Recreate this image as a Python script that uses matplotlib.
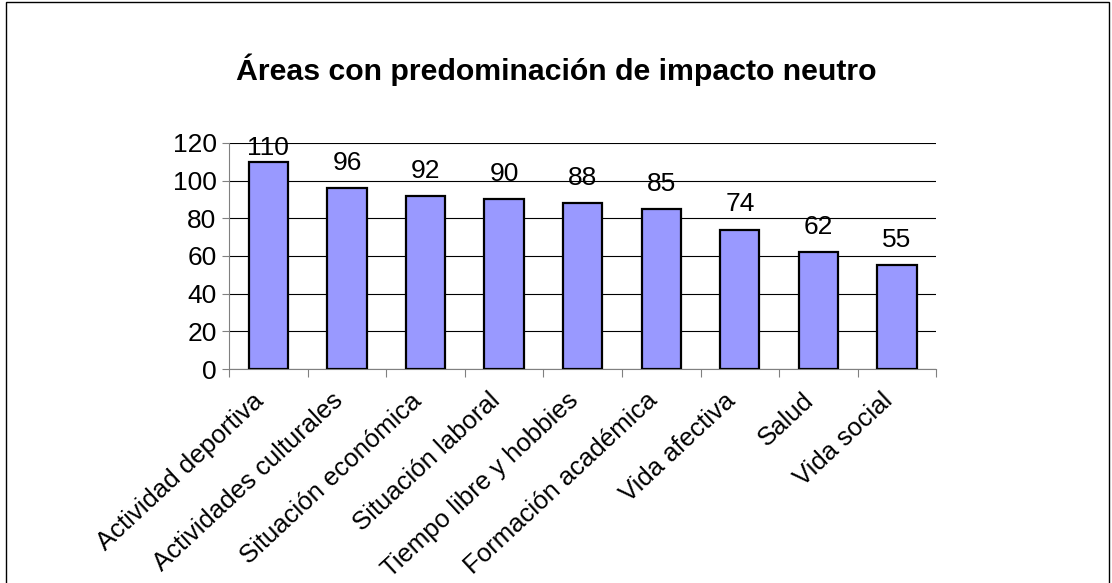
import numpy as np
import matplotlib.pyplot as plt
import matplotlib.transforms as mtransforms
from matplotlib.patches import Rectangle

plt.rcParams['font.family'] = ['Liberation Sans', 'DejaVu Sans']

areas = ["Actividad deportiva", "Actividades culturales", "Situación económica",
         "Situación laboral", "Tiempo libre y hobbies", "Formación académica",
         "Vida afectiva", "Salud", "Vida social"]
valores = [110, 96, 92, 90, 88, 85, 74, 62, 55]
yticks = [0, 20, 40, 60, 80, 100, 120]

fig = plt.figure(figsize=[11.12, 5.83], dpi=100)
ax = fig.add_axes([0.206, 0.367, 0.636, 0.388])

x = np.arange(len(areas))
ax.bar(x, valores, width=0.5, color='#9999FF', edgecolor='black', linewidth=1.6, zorder=3)
for xi, v in zip(x, valores):
    # label sits ~25px above bar, kept inside the plot area like Excel does
    ax.text(xi, min(v + 13.3, 117.5), str(v), ha='center', va='center', fontsize=19)

ax.set_xlim(-0.5, len(areas) - 0.5)
ax.set_ylim(0, 120)
ax.set_yticks(yticks)
ax.yaxis.grid(True, color='black', linewidth=0.8, zorder=0)
ax.tick_params(axis='y', labelsize=19, length=5, color='gray', pad=4)

# category boundaries carry the ticks, labels sit at the centers
ax.set_xticks(np.arange(len(areas) + 1) - 0.5)
ax.set_xticklabels([])
ax.tick_params(axis='x', length=6, color='gray')
ax.set_xticks(x, minor=True)
ax.set_xticklabels(areas, minor=True, rotation=43, ha='right', va='top',
                   rotation_mode='anchor', fontsize=18.5)
ax.tick_params(axis='x', which='minor', length=0, pad=14)
shift = mtransforms.ScaledTranslation(-16 / 100, 0, fig.dpi_scale_trans)
for lab in ax.get_xticklabels(minor=True):
    lab.set_transform(lab.get_transform() + shift)

for s in ['top', 'right']:
    ax.spines[s].set_visible(False)
ax.spines['left'].set_color('gray')
ax.spines['bottom'].set_color('gray')

fig.text(0.5, 0.88, "Áreas con predominación de impacto neutro", ha='center',
         va='center', fontsize=21.8, fontweight='bold')

fig.patches.append(Rectangle((0.005, -0.01), 0.992, 1.006, transform=fig.transFigure,
                             fill=False, edgecolor='black', linewidth=1))

plt.savefig("out.png", dpi=100)
plt.close()
